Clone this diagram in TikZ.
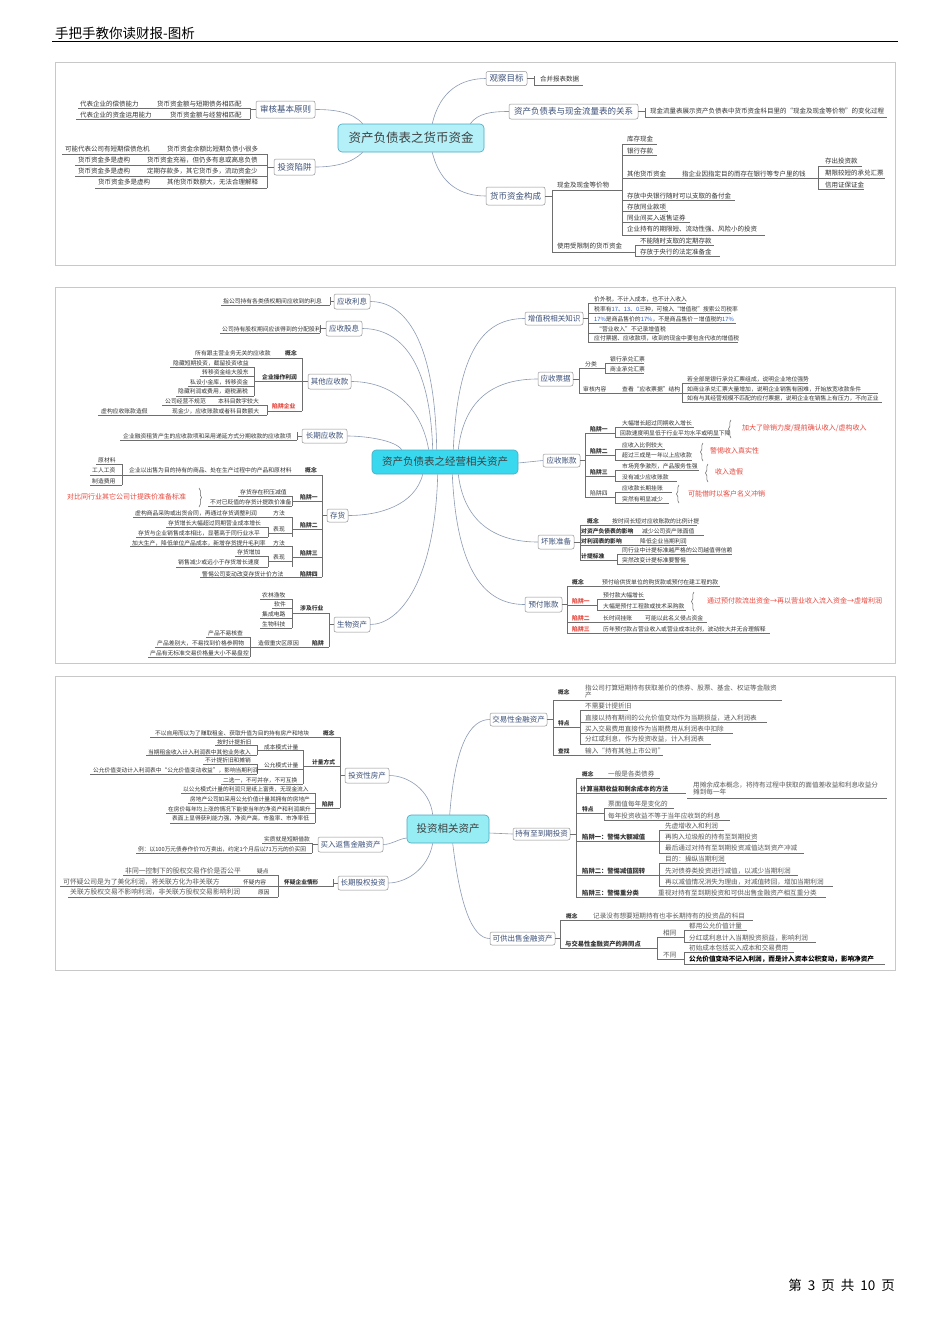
\documentclass[tikz,border=0pt]{standalone}
\usepackage{fontspec}
\setmainfont{Noto Sans CJK SC}
\usetikzlibrary{decorations.pathreplacing,calc}
\definecolor{cFrm}{HTML}{C8C8C8}
\definecolor{cLn}{HTML}{6E6E6E}
\definecolor{cCv}{HTML}{8C9BB4}
\definecolor{cBxd}{HTML}{909090}
\definecolor{cBxt}{HTML}{3C5078}
\definecolor{cCy1}{HTML}{B4F0F8}
\definecolor{cCy2}{HTML}{38D8EE}
\definecolor{cCy3}{HTML}{96EEF4}
\definecolor{cCyd}{HTML}{4AA8BE}
\definecolor{cRd}{HTML}{E8463C}
\definecolor{cBl}{HTML}{2A5AD0}
\definecolor{cTx}{HTML}{333333}
\tikzset{
 s/.style={anchor=west, inner sep=0pt, font=\fontsize{5.8}{6.8}\selectfont, text=cTx},
 s1/.style={font=\fontsize{6.5}{7.5}\selectfont},
 s3/.style={font=\fontsize{5.7}{6.7}\selectfont},
 s4/.style={font=\fontsize{6.8}{7.5}\selectfont, text=black!65},
 s5/.style={font=\fontsize{6.3}{7}\selectfont},
 sw/.style={font=\fontsize{6.6}{7.2}\selectfont, text=black!65},
 sr/.style={font=\fontsize{7}{8}\selectfont, text=cRd},
 b/.style={execute at begin node=\bfseries},
 r/.style={text=cRd},
 ul/.style={draw=cLn, line width=0.45pt},
 brc/.style={draw=black!60, line width=0.5pt, decorate, decoration={brace, amplitude=2.5pt}},
 cv/.style={draw=cCv, line width=0.6pt},
 frmline/.style={draw=cFrm, line width=0.6pt},
 bx/.style={draw=cBxd, fill=white, rounded corners=2pt, text=cBxt, inner sep=0pt, align=center, font=\fontsize{7.5}{8}\selectfont, line width=0.5pt},
 bx1/.style={bx, font=\fontsize{8.5}{9}\selectfont},
 ctr/.style={draw=cCyd, rounded corners=4pt, inner sep=0pt, text=black!75, line width=0.6pt},
}
\newcommand\qT[4][]{\node[s,#1] (#2) at (#3) {#4};}
\newcommand\qU[3]{\draw[ul] (#1,#3) -- (#2,#3);}
\newcommand\qV[3]{\draw[ul] (#1,#2) -- (#1,#3);}
\newcommand\qR[3]{\draw[brc] (#1,#2) -- (#1,#3);}
\newcommand\qL[3]{\draw[brc] (#1,#3) -- (#1,#2);}
\begin{document}
\begin{tikzpicture}[x=1pt,y=-1pt]
\path[use as bounding box, fill=white] (0,0) rectangle (950,1344);
% header / footer
\node[anchor=base west, font=\fontsize{13.5}{14}\selectfont, inner sep=0pt] (hd) at (55,38) {手把手教你读财报-图析};
\draw[black, line width=0.6pt] (52,41.5) -- (898,41.5);
\node[anchor=base east, font=\fontsize{13.5}{14}\selectfont, inner sep=0pt] (ft) at (895,1290) {第\hspace{6pt}3\hspace{6pt}页\hspace{6pt}共\hspace{6pt}10\hspace{6pt}页};
% frames
\draw[frmline] (55,62) rectangle (895,265);
\draw[frmline] (55,287) rectangle (895,663);
\draw[frmline] (55,676) rectangle (895,970);

% ================= PANEL 1 =================
\node[ctr,fill=cCy1,minimum width=146pt,minimum height=28pt,font=\fontsize{12.5}{13}\selectfont] (c1) at (411,138) {资产负债表之货币资金};
\node[bx1,minimum width=59pt,minimum height=17pt] (b1a) at (285.5,109.5) {审核基本原则};
\node[bx1,minimum width=41pt,minimum height=16pt] (b1b) at (294.5,167) {投资陷阱};
\node[bx1,minimum width=41pt,minimum height=14pt] (b1c) at (506.5,78.5) {观察目标};
\node[bx1,minimum width=129pt,minimum height=15pt] (b1d) at (573.5,111.5) {资产负债表与现金流量表的关系};
\node[bx1,minimum width=59pt,minimum height=18pt] (b1e) at (515.5,196) {货币资金构成};
\draw[cv] ([xshift=25pt]c1.north west) .. controls (352,112) and (335,109.5) .. (b1a.east);
\draw[cv] ([xshift=25pt]c1.south west) .. controls (352,163) and (335,167) .. (b1b.east);
\draw[cv] ([xshift=-52pt]c1.north east) .. controls (440,90) and (462,78.5) .. (b1c.west);
\draw[cv] ([xshift=-14pt]c1.north east) .. controls (478,113) and (492,111.5) .. (b1d.west);
\draw[cv] ([xshift=-52pt]c1.south east) .. controls (440,185) and (462,196) .. (b1e.west);
% 审核基本原则
\draw[ul] (b1a.west) -- (250,109.5); \qV{250}{108}{119}
\qT[s1]{a11}{80,104}{代表企业的偿债能力}
\qT[s1]{a12}{157,104}{货币资金额与短期债务相匹配}
\qU{78}{250}{108}
\qT[s1]{a13}{80,115}{代表企业的资金运用能力}
\qT[s1]{a14}{170,115}{货币资金额与经营相匹配}
\qU{76}{250}{119}
% 投资陷阱
\draw[ul] (b1b.west) -- (267,167); \qV{267}{154}{188}
\qT[s1]{a21}{65,149}{可能代表公司有短期偿债危机}
\qT[s1]{a22}{167,149}{货币资金余额比短期负债小很多}
\qU{62}{267}{154}
\qT[s1]{a23}{78,160}{货币资金多是虚构}
\qT[s1]{a24}{147,160}{货币资金充裕，但仍多有息或高息负债}
\qU{75}{267}{165}
\qT[s1]{a25}{78,171}{货币资金多是虚构}
\qT[s1]{a26}{147,171}{定期存款多，其它货币多，流动资金少}
\qU{75}{267}{176}
\qT[s1]{a27}{98,182}{货币资金多是虚构}
\qT[s1]{a28}{167,182}{其他货币数额大，无法合理解释}
\qU{95}{267}{188}
% 观察目标
\draw[ul] (b1c.east) -- (534,78.5); \qV{534}{76}{85}
\qT[s1]{a31}{540,79}{合并报表数据}
\qU{534}{583}{85}
% 关系
\draw[ul] (b1d.east) -- (645,111.5); \qV{645}{108}{117}
\qT[s1]{a41}{650,111}{现金流量表展示资产负债表中货币资金科目里的“现金及现金等价物”的变化过程}
\qU{645}{887}{117}
% 货币资金构成
\draw[ul] (b1e.east) -- (552,196); \qV{552}{190}{252}
\qT[s1]{a51}{557,185}{现金及现金等价物}
\qU{552}{622}{190}
\qV{622}{144}{235}
\qT[s1]{a52}{627,139}{库存现金} \qU{622}{657}{144}
\qT[s1]{a53}{627,151}{银行存款} \qU{622}{657}{155}
\qT[s1]{a54}{627,174}{其他货币资金}
\qT[s1]{a55}{682,174}{指企业因指定目的而存在银行等专户里的钱}
\qU{622}{818}{178}
\qV{818}{166}{189}
\qT[s1]{a56}{825,161}{存出投资款} \qU{818}{862}{166}
\qT[s1]{a57}{825,173}{期限较短的承兑汇票} \qU{818}{885}{178}
\qT[s1]{a58}{825,185}{信用证保证金} \qU{818}{864}{189}
\qT[s1]{a59}{627,196}{存放中央银行随时可以支取的备付金} \qU{622}{735}{200}
\qT[s1]{a5a}{627,207}{存放同业款项} \qU{622}{668}{211}
\qT[s1]{a5b}{627,218}{同业间买入返售证券} \qU{622}{690}{222}
\qT[s1]{a5c}{627,229}{企业持有的期限短、流动性强、风险小的投资} \qU{622}{765}{235}
\qT[s1]{a5d}{557,246}{使用受限制的货币资金} \qU{552}{635}{252}
\qV{635}{245}{256}
\qT[s1]{a5e}{640,241}{不能随时支取的定期存款} \qU{635}{714}{245}
\qT[s1]{a5f}{640,252}{存放于央行的法定准备金} \qU{635}{720}{256}

% ================= PANEL 2 =================
\node[ctr,fill=cCy2,minimum width=146pt,minimum height=24pt,font=\fontsize{10.5}{11}\selectfont] (c2) at (445,462) {资产负债表之经营相关资产};
\node[bx,minimum width=36pt,minimum height=15pt] (b2a) at (352,301.5) {应收利息};
\node[bx,minimum width=36pt,minimum height=15pt] (b2b) at (344,328.5) {应收股息};
\node[bx,minimum width=43pt,minimum height=15pt] (b2c) at (329.5,381.5) {其他应收款};
\node[bx,minimum width=45pt,minimum height=14pt] (b2d) at (324.5,436) {长期应收款};
\node[bx,minimum width=21pt,minimum height=13pt] (b2e) at (337.5,515.5) {存货};
\node[bx,minimum width=36pt,minimum height=15pt] (b2f) at (352,624.5) {生物资产};
\node[bx,minimum width=58pt,minimum height=13pt] (b2g) at (554,318.5) {增值税相关知识};
\node[bx,minimum width=35pt,minimum height=14pt] (b2h) at (555.5,379) {应收票据};
\node[bx,minimum width=37pt,minimum height=13pt] (b2i) at (561.5,460.5) {应收账款};
\node[bx,minimum width=36pt,minimum height=14pt] (b2j) at (556,542) {坏账准备};
\node[bx,minimum width=37pt,minimum height=15pt] (b2k) at (543.5,604.5) {预付账款};
\draw[cv] ([xshift=65pt]c2.north west) .. controls (435,340) and (405,301.5) .. (b2a.east);
\draw[cv] ([xshift=61pt]c2.north west) .. controls (430,360) and (400,328.5) .. (b2b.east);
\draw[cv] ([xshift=57pt]c2.north west) .. controls (420,400) and (385,381.5) .. (b2c.east);
\draw[cv] ([xshift=30pt]c2.north west) .. controls (395,440) and (365,436) .. (b2d.east);
\draw[cv] ([xshift=51pt]c2.south west) .. controls (415,505) and (380,515.5) .. (b2e.east);
\draw[cv] ([xshift=66pt]c2.south west) .. controls (435,580) and (400,624.5) .. (b2f.east);
\draw[cv] ([xshift=-65pt]c2.north east) .. controls (458,340) and (490,318.5) .. (b2g.west);
\draw[cv] ([xshift=-60pt]c2.north east) .. controls (465,390) and (505,379) .. (b2h.west);
\draw[cv] ([yshift=-1pt]c2.east) -- (b2i.west);
\draw[cv] ([xshift=-60pt]c2.south east) .. controls (465,530) and (505,542) .. (b2j.west);
\draw[cv] ([xshift=-66pt]c2.south east) .. controls (457,580) and (490,604.5) .. (b2k.west);
% 应收利息 / 股息
\draw[ul] (b2a.west) -- (330,301.5); \qV{330}{297}{305}
\qT{p1}{223,301}{指公司持有各类债权期间应收到的利息} \qU{221}{330}{305}
\draw[ul] (b2b.west) -- (320,328.5); \qV{320}{325}{333}
\qT{p2}{222,329}{公司持有股权期间应该得到的分配股利} \qU{220}{320}{333}
% 其他应收款
\draw[ul] (b2c.west) -- (302,381.5); \qV{302}{358}{411}
\qT[b]{p3}{285,353}{概念}
\qT{p4}{195,353}{所有跟主营业务无关的应收款} \qU{193}{302}{358}
\qT[b]{p5}{262,377}{企业操作利润} \qU{254}{302}{381}
\qV{254}{367}{396}
\qT{p6}{173,363}{隐藏短期投资，截留投资收益} \qU{170}{254}{367}
\qT{p7}{202,372}{转移资金给大股东} \qU{200}{254}{376}
\qT{p8}{190,382}{私设小金库，转移资金} \qU{188}{254}{386}
\qT{p9}{178,391}{隐藏利润或费用，避税漏税} \qU{176}{254}{396}
\qT[b,r]{p10}{272,406}{陷阱企业} \qU{267}{302}{411}
\qV{267}{405}{415}
\qT{p11}{165,401}{公司经营不规范} \qT{p12}{218,401}{本科目数字较大} \qU{162}{267}{405}
\qT{p13}{101,411}{虚构应收账款造假} \qT{p14}{172,411}{现金少，应收账款或者科目数额大} \qU{98}{267}{415}
% 长期应收款
\draw[ul] (b2d.west) -- (297,436); \qV{297}{432}{440}
\qT{p15}{123,436}{企业融资租赁产生的应收款项和采用递延方式分期收款的应收款项} \qU{120}{297}{440}
% 存货
\draw[ul] (b2e.west) -- (322,515.5); \qV{322}{475}{577}
\qT[b]{p16}{305,470}{概念}
\qT{p17}{129,470}{企业以出售为目的持有的商品、处在生产过程中的产品和原材料} \qU{122}{322}{475}
\qV{122}{464}{485}
\qT{p18}{98,460}{原材料} \qU{96}{122}{464}
\qT{p19}{92,470}{工人工资} \qU{90}{122}{475}
\qT{p20}{92,481}{制造费用} \qU{90}{122}{485}
\qT[b]{p21}{300,497}{陷阱一} \qU{292}{322}{501}
\qV{292}{496}{506}
\qT{p22}{240,492}{存货存在积压减值} \qU{238}{292}{496}
\qT{p23}{210,502}{不对已贬值的存货计提跌价准备} \qU{208}{292}{506}
\qT[sr]{p24}{67,497}{对比同行业其它公司计提跌价准备标准}
\qR{199}{488}{507}
\qT[b]{p25}{300,525}{陷阱二} \qU{292}{322}{529}
\qV{292}{517}{537}
\qT{p26}{135,513}{虚构商品采购或出货合同，再通过存货调整利润}
\qT{p27}{273,513}{方法} \qU{133}{292}{517}
\qT{p28}{273,529}{表现} \qU{268}{292}{533}
\qV{268}{527}{537}
\qT{p29}{168,523}{存货增长大幅超过同期营业成本增长} \qU{166}{268}{527}
\qT{p30}{138,533}{存货与企业销售成本相比，显著高于同行业水平} \qU{136}{268}{537}
\qT[b]{p31}{300,553}{陷阱三} \qU{292}{322}{557}
\qV{292}{546}{567}
\qT{p32}{132,543}{加大生产，降低单位产品成本，新增存货提升毛利率}
\qT{p33}{273,543}{方法} \qU{130}{292}{546}
\qT{p34}{273,557}{表现} \qU{268}{292}{561}
\qV{268}{556}{567}
\qT{p35}{237,552}{存货增加} \qU{235}{268}{556}
\qT{p36}{178,562}{销售减少或远小于存货增长速度} \qU{176}{268}{567}
\qT[b]{p37}{300,574}{陷阱四}
\qT{p38}{202,574}{警惕公司变动改变存货计价方法} \qU{200}{322}{577}
% 生物资产
\draw[ul] (b2f.west) -- (329,624.5); \qV{329}{613}{647}
\qT[b]{p39}{300,608}{涉及行业} \qU{292}{329}{613}
\qV{292}{599}{628}
\qT{p40}{262,595}{农林渔牧} \qU{260}{292}{599}
\qT{p41}{274,604}{软件} \qU{272}{292}{608}
\qT{p42}{262,614}{集成电路} \qU{260}{292}{618}
\qT{p43}{262,624}{生物科技} \qU{260}{292}{628}
\qT[b]{p44}{312,643}{陷阱}
\qT{p45}{258,643}{造假重灾区原因} \qU{250}{329}{647}
\qV{250}{637}{657}
\qT{p46}{208,633}{产品不易核查} \qU{206}{250}{637}
\qT{p47}{157,643}{产品差别大，不易找到价格参照物} \qU{155}{250}{647}
\qT{p48}{150,653}{产品有无标准交易价格量大小不易盘控} \qU{148}{250}{657}
% 增值税
\draw[ul] (b2g.east) -- (588,318.5); \qV{588}{303}{342}
\qT{q1}{594,299}{价外税，不计入成本，也不计入收入} \qU{588}{686}{303}
\qT{q2}{594,309}{税率有{\color{cBl}17、13、0}三种，可输入“增值税”搜索公司税率} \qU{588}{731}{313}
\qT{q3}{594,319}{{\color{cBl}17\%}是商品售价的{\color{cBl}17\%}，不是商品售价－增值税的{\color{cBl}17\%}} \qU{588}{736}{323}
\qT{q4}{596,329}{“营业收入”不记录增值税} \qU{588}{659}{333}
\qT{q5}{594,338}{应付票据、应收款项，收到的现金中要包含代收的增值税} \qU{588}{738}{342}
% 应收票据
\draw[ul] (b2h.east) -- (579,379); \qV{579}{368}{393}
\qT{q6}{585,364}{分类} \qU{579}{605}{368}
\qV{605}{363}{373}
\qT{q7}{610,359}{银行承兑汇票} \qU{605}{644}{363}
\qT{q8}{610,369}{商业承兑汇票} \qU{605}{644}{373}
\qT{q9}{583,389}{审核内容}
\qT{q10}{622,389}{查看“应收票据”结构} \qU{579}{682}{393}
\qV{682}{383}{402}
\qT{q11}{687,379}{若全部是银行承兑汇票组成，说明企业地位强势} \qU{682}{808}{383}
\qT{q12}{687,389}{如商业承兑汇票大量增加，说明企业销售有困难，开始放宽收款条件} \qU{682}{878}{393}
\qT{q13}{687,398}{如有与其经营规模不匹配的应付票据，说明企业在销售上有压力，不向正业} \qU{682}{882}{402}
% 应收账款
\draw[ul] (b2i.east) -- (585,460.5); \qV{585}{433}{497}
\qT[b]{q14}{590,429}{陷阱一} \qU{585}{615}{433}
\qV{615}{427}{437}
\qT{q15}{622,423}{大幅增长超过同期收入增长} \qU{615}{694}{427}
\qT{q16}{620,433}{回款速度明显低于行业平均水平或明显下降} \qU{615}{720}{437}
\qL{731}{420}{438}
\qT[sr]{q17}{742,428}{加大了赊销力度/提前确认收入/虚构收入}
\qT[b]{q18}{590,451}{陷阱二} \qU{585}{615}{455}
\qV{615}{449}{460}
\qT{q19}{622,445}{应收入比例较大} \qU{615}{665}{449}
\qT{q20}{622,455}{超过三成是一年以上应收款} \qU{615}{692}{460}
\qL{703}{443}{461}
\qT[sr]{q21}{710,451}{警惕收入真实性}
\qT[b]{q22}{590,472}{陷阱三} \qU{585}{615}{476}
\qV{615}{470}{481}
\qT{q23}{622,466}{市场竞争激烈，产品服务性强} \qU{615}{699}{470}
\qT{q24}{622,477}{没有减少应收账款} \qU{615}{677}{481}
\qL{708}{464}{482}
\qT[sr]{q25}{715,472}{收入造假}
\qT{q26}{590,493}{陷阱四} \qU{585}{615}{497}
\qV{615}{492}{503}
\qT{q27}{622,488}{应收款长期挂账} \qU{615}{672}{492}
\qT{q28}{622,499}{突然有明显减少} \qU{615}{669}{503}
\qL{679}{485}{503}
\qT[sr]{q29}{688,494}{可能借时以客户名义冲销}
% 坏账准备
\draw[ul] (b2j.east) -- (580,542); \qV{580}{525}{560}
\qT[b]{q30}{587,521.5}{概念} \qT{q31}{612,521.5}{按时间长短对应收账款的比例计提} \qU{580}{697}{525}
\qT[b]{q32}{581,531.5}{对资产负债表的影响} \qT{q33}{642,531.5}{减少公司资产账面值} \qU{580}{704}{535.5}
\qT[b]{q34}{581,541}{对利润表的影响} \qT{q35}{640,541}{降低企业当期利润} \qU{580}{687}{545}
\qT[b]{q36}{581,556}{计提标准} \qU{580}{617}{560}
\qV{617}{554}{564}
\qT{q37}{622,550.5}{同行业中计提标准越严格的公司越值得信赖} \qU{617}{732}{554}
\qT{q38}{622,560}{突然改变计提标准要警惕} \qU{617}{689}{564}
% 预付账款
\draw[ul] (b2k.east) -- (567,604.5); \qV{567}{586}{633}
\qT[b]{q39}{572,582}{概念} \qT{q40}{602,582}{预付给供货单位的购货款或预付在建工程的款} \qU{567}{720}{586}
\qT[b,r]{q41}{572,601}{陷阱一} \qU{567}{597}{605}
\qV{597}{599}{610}
\qT{q42}{603,595.5}{预付款大幅增长} \qU{597}{645}{599}
\qT{q43}{603,606}{大幅是预付工程款或技术采购款} \qU{597}{686}{610}
\qL{694}{592}{611}
\qT[sr]{q44}{707,601}{通过预付款流出资金→再以营业收入流入资金→虚增利润}
\qT[b,r]{q45}{572,618}{陷阱二} \qT{q46}{603,618}{长时间挂账} \qT{q47}{645,618}{可能以此名义侵占资金} \qU{567}{707}{622}
\qT[b,r]{q48}{572,629}{陷阱三} \qT{q49}{603,629}{历年预付款占营业收入或营业成本比例，波动较大并无合理解释} \qU{567}{770}{633}

% ================= PANEL 3 =================
\node[ctr,fill=cCy3,minimum width=82pt,minimum height=28pt,font=\fontsize{10.5}{11}\selectfont] (c3) at (448,829) {投资相关资产};
\node[bx,minimum width=44pt,minimum height=15pt] (b3a) at (367,775.5) {投资性房产};
\node[bx,minimum width=65pt,minimum height=15pt] (b3b) at (350.5,844.5) {买入返售金融资产};
\node[bx,minimum width=50pt,minimum height=14pt] (b3c) at (363,883) {长期股权投资};
\node[bx,minimum width=57pt,minimum height=13pt] (b3d) at (518.5,719.5) {交易性金融资产};
\node[bx,minimum width=57pt,minimum height=12pt] (b3e) at (541.5,834) {持有至到期投资};
\node[bx,minimum width=65pt,minimum height=13pt] (b3f) at (522.5,938.5) {可供出售金融资产};
\draw[cv] ([xshift=26pt]c3.north west) .. controls (430,790) and (408,775.5) .. (b3a.east);
\draw[cv] ([yshift=-9pt]c3.west) .. controls (398,839) and (392,844.5) .. (b3b.east);
\draw[cv] ([xshift=26pt]c3.south west) .. controls (428,870) and (405,883) .. (b3c.east);
\draw[cv] ([xshift=43pt]c3.north west) .. controls (455,745) and (470,719.5) .. (b3d.west);
\draw[cv] ([yshift=-4pt]c3.east) -- (b3e.west);
\draw[cv] ([xshift=46pt]c3.south west) .. controls (460,905) and (472,938.5) .. (b3f.west);
% 投资性房产
\draw[ul] (b3a.west) -- (340,775.5); \qV{340}{737}{808}
\qT[s3,b]{r1}{323,733}{概念}
\qT[s3]{r2}{155,733}{不以自用而以为了赚取租金、获取升值为目的持有房产和地块} \qU{150}{340}{737}
\qT[s3,b]{r3}{312,762}{计量方式} \qU{303}{340}{766}
\qV{303}{750}{784}
\qT[s3]{r4}{264,747}{成本模式计量} \qU{257}{303}{750}
\qV{257}{745}{755}
\qT[s3]{r5}{217,742}{按时计提折旧} \qU{215}{257}{745}
\qT[s3]{r6}{148,752}{当期租金收入计入利润表中其他业务收入} \qU{146}{257}{755}
\qT[s3]{r7}{264,765}{公允模式计量} \qU{257}{303}{769}
\qV{257}{764}{774}
\qT[s3]{r8}{205,760}{不计提折旧和摊销} \qU{203}{257}{764}
\qT[s3]{r9}{93,770}{公允价值变动计入利润表中“公允价值变动收益”，影响当期利润} \qU{90}{257}{774}
\qT[s3]{r10}{223,780}{二选一，不可并存，不可互换} \qU{221}{303}{784}
\qT[s3,b]{r11}{322,804}{陷阱} \qU{315}{340}{808}
\qV{315}{793}{823}
\qT[s3]{r12}{183,789}{以公允模式计量的利润只是纸上富贵，无现金流入} \qU{181}{315}{793}
\qT[s3]{r13}{190,799}{房地产公司如采用公允价值计量其拥有的房地产} \qU{188}{315}{803}
\qT[s3]{r14}{168,809}{在房价每年均上涨的情况下能使当年的净资产和利润飙升} \qU{166}{315}{813}
\qT[s3]{r15}{172,818}{表面上显得获利能力强，净资产高，市盈率、市净率低} \qU{170}{315}{823}
% 买入返售
\draw[ul] (b3b.west) -- (312,844.5); \qV{312}{843}{853}
\qT[s3]{r16}{264,839}{实质就是短期借款} \qU{262}{312}{843}
\qT[s3]{r17}{138,849}{例：以100万元债券作价70万卖出，约定1个月后以71万元的价买回} \qU{136}{312}{853}
% 长期股权投资
\draw[ul] (b3c.west) -- (333,883); \qV{333}{879}{887}
\qT[s3,b]{r18}{284,882}{怀疑企业情形} \qU{278}{333}{886}
\qV{278}{875}{897}
\qT[s4]{r19}{125,871}{非同一控制下的股权交易作价是否公平}
\qT[s3]{r20}{257,871}{疑点} \qU{123}{278}{875}
\qT[s4]{r21}{63,882}{可怀疑公司是为了美化利润，将关联方化为非关联方}
\qT[s3]{r22}{243,882}{怀疑内容} \qU{60}{278}{886}
\qT[s4]{r23}{70,892}{关联方股权交易不影响利润，非关联方股权交易影响利润}
\qT[s3]{r24}{258,892}{原因} \qU{68}{278}{897}
% 交易性金融资产
\draw[ul] (b3d.east) -- (553,719.5); \qV{553}{700}{755}
\qT[s3,b]{r25}{558,692}{概念}
\node[s,sw,align=left] (r26) at (585,691.5) {指公司打算短期持有获取差价的债券、股票、基金、权证等金融资\\产};
\qU{553}{782}{700}
\qT[s3,b]{r27}{558,723}{特点} \qU{553}{580}{727}
\qV{580}{710}{744}
\qT[sw]{r28}{585,706}{不需要计提折旧} \qU{580}{628}{710}
\qT[sw]{r29}{585,718}{直接以持有期间的公允价值变动作为当期损益，进入利润表} \qU{580}{767}{722}
\qT[sw]{r30}{585,728.5}{买入交易费用直接作为当期费用从利润表中扣除} \qU{580}{733}{733}
\qT[sw]{r31}{585,739.5}{分红或利息，作为投资收益，计入利润表} \qU{580}{711}{744}
\qT[s3,b]{r32}{558,751}{查找} \qT[sw]{r33}{585,751}{输入“持有其他上市公司”} \qU{553}{663}{755}
% 持有至到期投资
\draw[ul] (b3e.east) -- (576,834); \qV{576}{778}{897}
\qT[s3,b]{r34}{582,774}{概念} \qT[sw]{r35}{608,774}{一般是各类债券} \qU{576}{660}{778}
\qT[s5,b]{r36}{580,789}{计算当期收益和剩余成本的方法} \qU{576}{686}{793}
\node[s,sw,align=left] (r37) at (693,788.5) {用摊余成本概念，将持有过程中获取的面值差收益和利息收益分\\摊到每一年};
\qU{687}{887}{798}
\qT[s3,b]{r38}{582,809}{特点} \qU{576}{604}{813}
\qV{604}{808}{820}
\qT[sw]{r39}{608,804}{票面值每年是变化的} \qU{604}{674}{808}
\qT[sw]{r40}{608,815.5}{每年投资收益不等于当年应收到的利息} \qU{604}{730}{820}
\qT[s5,b]{r41}{582,837}{陷阱一：警惕大额减值} \qU{576}{659}{841}
\qV{659}{830}{853}
\qT[sw]{r42}{665,826}{先虚增收入和利润} \qU{659}{724}{830}
\qT[sw]{r43}{665,837}{再购入垃圾般的持有至到期投资} \qU{659}{757}{841}
\qT[sw]{r44}{665,848.5}{最后通过对持有至到期投资减值达到资产冲减} \qU{659}{804}{853}
\qT[s5,b]{r45}{582,871}{陷阱二：警惕减值回转} \qU{576}{659}{875}
\qV{659}{863}{886}
\qT[sw]{r46}{665,859}{目的：操纵当期利润} \qU{659}{726}{863}
\qT[sw]{r47}{665,871}{先对债券类投资进行减值，以减少当期利润} \qU{659}{798}{875}
\qT[sw]{r48}{665,882}{再以减值情况消失为理由，对减值转回，增加当期利润} \qU{659}{833}{886}
\qT[s5,b]{r49}{582,893}{陷阱三：警惕重分类}
\qT[sw]{r50}{658,893}{重视对持有至到期投资和可供出售金融资产相互重分类} \qU{576}{826}{897}
% 可供出售金融资产
\draw[ul] (b3f.east) -- (560,938.5); \qV{560}{920}{948}
\qT[s3,b]{r51}{566,916}{概念} \qT[sw]{r52}{593,916}{记录没有想要短期持有也非长期持有的投资品的科目} \qU{560}{753}{920}
\qT[s5,b]{r53}{565,944}{与交易性金融资产的异同点} \qU{560}{657}{948}
\qV{657}{937}{959}
\qT[sw]{r54}{663,932.5}{相同} \qU{657}{684}{937}
\qV{684}{930}{942}
\qT[sw]{r55}{689,926}{都用公允价值计量} \qU{684}{747}{930}
\qT[sw]{r56}{689,938}{分红或利息计入当期投资损益，影响利润} \qU{684}{816}{942}
\qT[sw]{r57}{663,955}{不同} \qU{657}{684}{959}
\qV{684}{952}{964}
\qT[sw]{r58}{689,948}{初始成本包括买入成本和交易费用} \qU{684}{794}{952}
\qT[sw,b,text=black]{r59}{689,959.5}{公允价值变动不记入利润，而是计入资本公积变动，影响净资产} \qU{684}{885}{964}
\end{tikzpicture}
\end{document}
